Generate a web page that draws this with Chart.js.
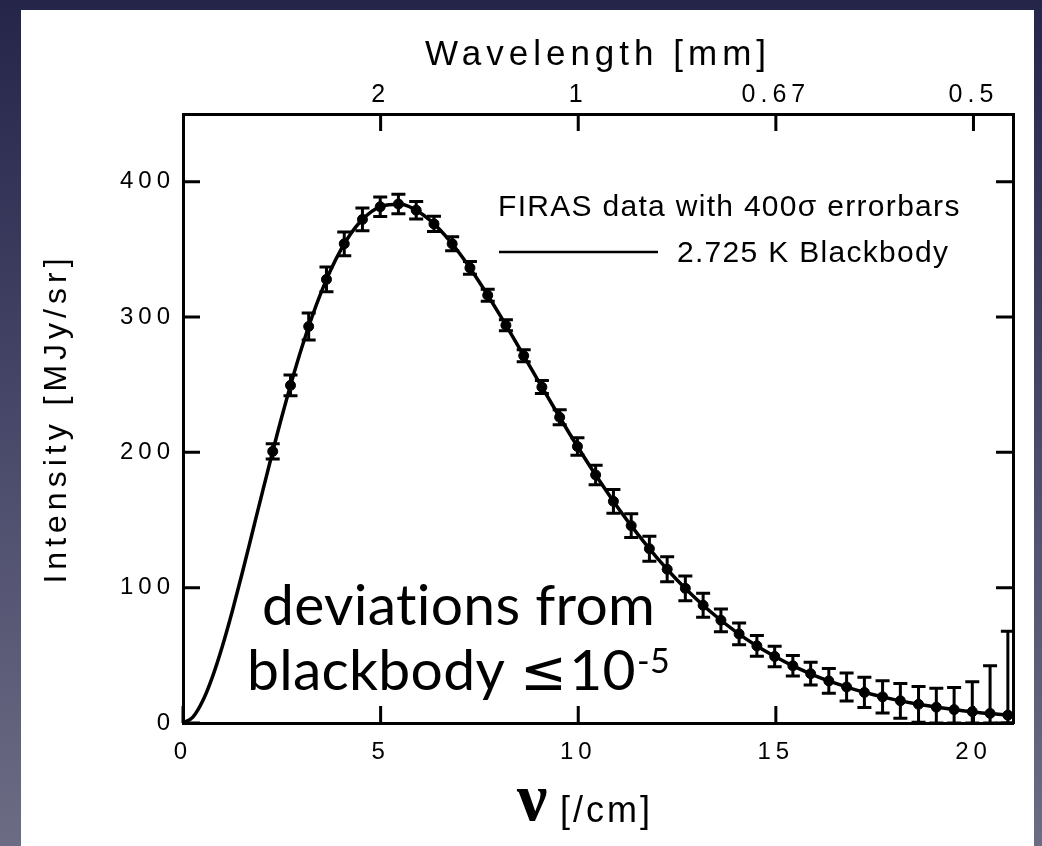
<!DOCTYPE html>
<html>
<head>
<meta charset="utf-8">
<script src="https://cdn.jsdelivr.net/npm/chart.js@4.4.0/dist/chart.umd.min.js"></script>
<style>
  html, body { margin: 0; padding: 0; width: 1042px; height: 846px; overflow: hidden;
    background: linear-gradient(180deg, #25254a 0%, #48486a 50%, #6c6c84 100%); }
  #panel { position: absolute; left: 21px; top: 10px; width: 1013px; height: 836px; background: #fff; }
</style>
</head>
<body>
<div id="panel"><canvas id="myChart" width="1013" height="836"></canvas></div>
<script>
// FIRAS monopole points, nu in /cm, intensity in MJy/sr, 400 sigma bars in MJy/sr
let nu = [2.27, 2.72, 3.18, 3.63, 4.08, 4.54, 4.99, 5.45, 5.90, 6.35, 6.81, 7.26, 7.71, 8.17,
          8.62, 9.08, 9.53, 9.98, 10.44, 10.89, 11.34, 11.80, 12.25, 12.71, 13.16, 13.61, 14.07,
          14.52, 14.97, 15.43, 15.88, 16.34, 16.79, 17.24, 17.70, 18.15, 18.61, 19.06, 19.51,
          19.97, 20.42, 20.87, 21.33];
let intensity = [200.7, 249.5, 293.0, 327.8, 354.1, 372.1, 381.5, 383.5, 378.9, 368.8, 354.1,
                 336.3, 316.1, 293.9, 271.4, 248.2, 225.9, 204.3, 183.3, 163.8, 145.8, 128.8,
                 113.6, 99.5, 87.0, 75.9, 65.8, 57.0, 49.2, 42.3, 36.4, 31.1, 26.6, 22.6, 19.3,
                 16.4, 13.8, 11.7, 9.9, 8.4, 7.1, 5.8, 4.5];
let err400 = [5.6, 7.6, 10.0, 9.2, 8.8, 8.4, 7.2, 7.2, 6.4, 5.6, 5.2, 4.8, 4.4, 4.0, 4.4, 4.8,
              5.6, 6.4, 7.2, 8.8, 8.8, 9.2, 9.2, 9.2, 8.8, 8.4, 8.0, 7.6, 7.6, 7.6, 8.4, 9.2,
              10.4, 11.2, 12.0, 12.8, 13.2, 14.0, 16.4, 22.0, 35.2, 62.0, 112.8];

// 2.725 K blackbody curve
let curveNu = [0, 0.25, 0.5, 0.75, 1, 1.25, 1.5, 1.75, 2, 2.5, 3, 3.5, 4, 4.5, 5, 5.5, 6, 6.5,
               7, 7.5, 8, 8.5, 9, 9.5, 10, 10.5, 11, 11.5, 12, 12.5, 13, 13.5, 14, 14.5, 15,
               15.5, 16, 16.5, 17, 17.5, 18, 18.5, 19, 19.5, 20, 20.5, 21];
let curveI = [0, 4.4, 16.4, 34.5, 57.1, 83.0, 111.0, 140.2, 169.5, 226.3, 276.9, 318.6, 350.0,
              370.9, 381.6, 383.3, 377.1, 364.5, 346.9, 325.7, 302.3, 277.5, 252.3, 227.4,
              203.4, 180.6, 159.3, 139.7, 121.8, 105.7, 91.3, 78.5, 67.2, 57.3, 48.8, 41.3,
              34.9, 29.4, 24.7, 20.7, 17.3, 14.4, 12.0, 9.9, 8.2, 6.8, 5.6];

let xTicks = [0, 5, 10, 15, 20];
let yTicks = [0, 100, 200, 300, 400];
let topTickNu = [5, 10, 15, 20];
let topTickLabels = ['2', '1', '0.67', '0.5'];

let sans = "'Liberation Sans', Arial, sans-serif";

let spacing = {
    id: 'spacing',
    beforeDraw(chart) {
        chart.ctx.letterSpacing = '5px';
    }
};

let errorBars = {
    id: 'errorBars',
    afterDatasetsDraw(chart) {
        const {ctx, chartArea: a, scales: {x, y}} = chart;
        ctx.save();
        ctx.beginPath();
        ctx.rect(a.left, a.top, a.right - a.left, a.bottom - a.top);
        ctx.clip();
        ctx.strokeStyle = '#000';
        ctx.lineWidth = 3;
        nu.forEach(function(v, i) {
            const px = x.getPixelForValue(v);
            const top = y.getPixelForValue(intensity[i] + err400[i]);
            const bot = y.getPixelForValue(Math.max(intensity[i] - err400[i], 0));
            ctx.beginPath();
            ctx.moveTo(px, top); ctx.lineTo(px, bot);
            ctx.moveTo(px - 7, top); ctx.lineTo(px + 7, top);
            ctx.moveTo(px - 7, bot); ctx.lineTo(px + 7, bot);
            ctx.stroke();
        });
        ctx.restore();
    }
};

let decorations = {
    id: 'decorations',
    afterDraw(chart) {
        const {ctx, chartArea: a, scales: {x, y}} = chart;
        ctx.save();
        // inward ticks on all four sides
        ctx.strokeStyle = '#000';
        ctx.lineWidth = 3;
        ctx.beginPath();
        xTicks.forEach(function(v) {
            const px = x.getPixelForValue(v);
            ctx.moveTo(px, a.bottom); ctx.lineTo(px, a.bottom - 17);
        });
        topTickNu.forEach(function(v) {
            const px = x.getPixelForValue(v);
            ctx.moveTo(px, a.top); ctx.lineTo(px, a.top + 17);
        });
        yTicks.forEach(function(v) {
            const py = y.getPixelForValue(v);
            ctx.moveTo(a.left, py); ctx.lineTo(a.left + 17, py);
            ctx.moveTo(a.right, py); ctx.lineTo(a.right - 17, py);
        });
        ctx.stroke();

        // legend
        ctx.fillStyle = '#000';
        ctx.letterSpacing = '1.3px';
        ctx.font = '30px ' + sans;
        ctx.textBaseline = 'middle';
        ctx.textAlign = 'left';
        ctx.fillText('FIRAS data with 400\u03c3 errorbars', 477, 198);
        ctx.fillText('2.725 K Blackbody', 656, 244);
        ctx.lineWidth = 2.5;
        ctx.beginPath();
        ctx.moveTo(478, 242); ctx.lineTo(637, 242);
        ctx.stroke();

        // x title: nu [/cm]
        ctx.textBaseline = 'alphabetic';
        ctx.letterSpacing = '0px';
        ctx.font = 'bold 68px "Liberation Serif", serif';
        ctx.fillText('\u03bd', 496, 810);
        ctx.letterSpacing = '3px';
        ctx.font = '36px ' + sans;
        ctx.fillText('[/cm]', 539, 812);

        // annotation (tiny spacing keeps the "ti" pair unligated)
        ctx.letterSpacing = '0.3px';
        ctx.font = '57px Lato, sans-serif';
        ctx.fillText('deviations from', 241, 615);
        let xs = 226;
        ctx.fillText('blackbody ', xs, 680);
        xs += ctx.measureText('blackbody ').width;
        ctx.font = '56px "DejaVu Sans", sans-serif';
        ctx.fillText('\u2264', xs, 680);
        xs += ctx.measureText('\u2264').width + 2;
        ctx.font = '57px Lato, sans-serif';
        ctx.fillText('10', xs, 680);
        xs += ctx.measureText('10').width + 1;
        ctx.font = '34px Lato, sans-serif';
        ctx.fillText('-5', xs, 663);
        ctx.restore();
    }
};

let ctx1 = document.getElementById('myChart').getContext('2d');

let chart1 = new Chart(ctx1, {
    type: 'scatter',
    data: {
        datasets: [{
            label: '2.725 K Blackbody',
            data: curveNu.map(function(v, i) { return {x: v, y: curveI[i]}; }),
            showLine: true,
            borderColor: '#000',
            borderWidth: 3.5,
            pointRadius: 0,
            cubicInterpolationMode: 'monotone',
            clip: 0,
            order: 2
        }, {
            label: 'FIRAS data',
            data: nu.map(function(v, i) { return {x: v, y: intensity[i]}; }),
            showLine: false,
            backgroundColor: '#000',
            borderColor: '#000',
            pointRadius: 5,
            clip: 0,
            order: 1
        }]
    },
    options: {
        responsive: false,
        animation: false,
        devicePixelRatio: 1,
        layout: { padding: 0 },
        plugins: {
            legend: { display: false },
            tooltip: { enabled: false }
        },
        scales: {
            x: {
                type: 'linear',
                position: 'bottom',
                min: 0,
                max: 21,
                afterBuildTicks: function(s) { s.ticks = xTicks.map(function(v) { return {value: v}; }); },
                afterFit: function(s) { s.height = 123; },
                grid: { display: false, drawTicks: false },
                border: { display: true, color: '#000', width: 3 },
                ticks: { color: '#000', font: { family: sans, size: 24 }, padding: 15, maxRotation: 0, autoSkip: false }
            },
            x2: {
                type: 'linear',
                position: 'top',
                axis: 'x',
                min: 0,
                max: 21,
                afterBuildTicks: function(s) { s.ticks = topTickNu.map(function(v) { return {value: v}; }); },
                afterFit: function(s) { s.height = 104; },
                grid: { display: false, drawTicks: false },
                border: { display: true, color: '#000', width: 3 },
                ticks: {
                    color: '#000', font: { family: sans, size: 25 }, padding: 4, maxRotation: 0, autoSkip: false,
                    callback: function(v) { return topTickLabels[topTickNu.indexOf(v)]; }
                },
                title: {
                    display: true, text: 'Wavelength [mm]', color: '#000',
                    font: { family: sans, size: 35 }, padding: { top: 24, bottom: 0 }
                }
            },
            y: {
                type: 'linear',
                position: 'left',
                min: 0,
                max: 450,
                afterBuildTicks: function(s) { s.ticks = yTicks.map(function(v) { return {value: v}; }); },
                afterFit: function(s) { s.width = 162; },
                grid: { display: false, drawTicks: false },
                border: { display: true, color: '#000', width: 3 },
                ticks: { color: '#000', font: { family: sans, size: 24 }, padding: 8 },
                title: {
                    display: true, text: 'Intensity [MJy/sr]', color: '#000',
                    font: { family: sans, size: 32 }, padding: { top: 17, bottom: 0 }
                }
            },
            y2: {
                type: 'linear',
                position: 'right',
                axis: 'y',
                min: 0,
                max: 450,
                afterFit: function(s) { s.width = 21; },
                grid: { display: false, drawTicks: false },
                border: { display: true, color: '#000', width: 3 },
                ticks: { display: false }
            }
        }
    },
    plugins: [spacing, errorBars, decorations]
});
</script>
</body>
</html>
